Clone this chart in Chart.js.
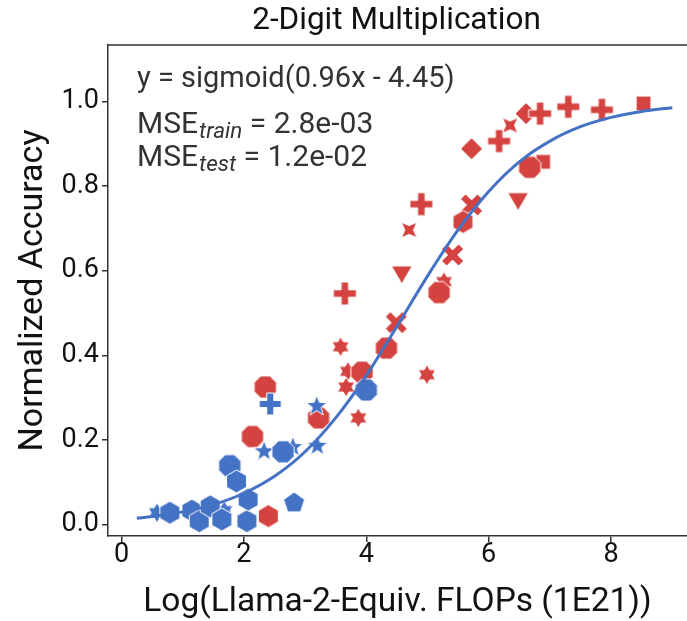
<!DOCTYPE html>
<html>
<head>
<meta charset="utf-8">
<script src="https://cdn.jsdelivr.net/npm/chart.js@4.4.1/dist/chart.umd.min.js"></script>
<style>
html,body{margin:0;padding:0;background:#fff;overflow:hidden;}
#wrap{width:687px;height:621px;}
</style>
</head>
<body>
<div id="wrap"><canvas id="c" width="687" height="621"></canvas></div>
<script>
// ---- data ----
const chartTitle = '2-Digit Multiplication';
const xAxisTitle = 'Log(Llama-2-Equiv. FLOPs (1E21))';
const yAxisTitle = 'Normalized Accuracy';
const xTicks = [0, 2, 4, 6, 8];
const xTickLabels = ['0', '2', '4', '6', '8'];
const yTicks = [0, 0.2, 0.4, 0.6, 0.8, 1.0];
const yTickLabels = ['0.0', '0.2', '0.4', '0.6', '0.8', '1.0'];
const fitLabel = 'y = sigmoid(0.96x - 4.45)';
const mseTrain = '2.8e-03';
const mseTest = '1.2e-02';

// fitted curve, sampled along the drawn line
const fitX = [0.25, 0.5, 1.0, 1.5, 2.0, 2.5, 3.0, 3.5, 4.0, 4.5, 5.0, 5.5, 6.0, 6.5, 7.0, 7.5, 8.0, 8.5, 9.0];
const fitY = [0.015, 0.019, 0.030, 0.047, 0.074, 0.114, 0.172, 0.252, 0.352, 0.468, 0.587, 0.696, 0.787, 0.857, 0.906, 0.940, 0.962, 0.976, 0.985];

// train (blue) points by marker
const trainHexX = [0.79, 1.15, 1.27, 1.45, 1.64, 1.88, 2.05, 2.07];
const trainHexY = [0.028, 0.033, 0.008, 0.043, 0.012, 0.102, 0.008, 0.059];
const trainOctX = [1.77, 2.64, 4.00];
const trainOctY = [0.139, 0.172, 0.318];
const trainPentX = [2.82];
const trainPentY = [0.051];
const trainPlusX = [2.43];
const trainPlusY = [0.285];
const trainStar5X = [2.33, 2.80, 3.20, 3.19];
const trainStar5Y = [0.173, 0.183, 0.186, 0.280];
const trainStar6X = [0.58, 1.68];
const trainStar6Y = [0.028, 0.033];

// test (red) points by marker
const testHexX = [2.40, 5.58];
const testHexY = [0.020, 0.715];
const testOctX = [2.35, 2.14, 3.22, 3.93, 4.33, 5.19, 6.67];
const testOctY = [0.325, 0.208, 0.252, 0.360, 0.417, 0.548, 0.844];
const testStar6X = [3.58, 3.70, 3.67, 3.87, 4.99, 5.27];
const testStar6Y = [0.420, 0.362, 0.325, 0.252, 0.354, 0.574];
const testPlusX = [3.65, 4.90, 6.17, 6.84, 7.30, 7.85];
const testPlusY = [0.546, 0.757, 0.906, 0.971, 0.987, 0.980];
const testXX = [4.49, 5.41, 5.72];
const testXY = [0.477, 0.637, 0.755];
const testStar4X = [4.70, 6.35];
const testStar4Y = [0.696, 0.943];
const testTriX = [4.58, 6.48];
const testTriY = [0.597, 0.770];
const testDiamondX = [5.72, 6.61];
const testDiamondY = [0.888, 0.971];
const testSquareX = [6.89, 8.53];
const testSquareY = [0.857, 0.995];

// ---- styling ----
const BLUE = '#4472c4';
const RED = '#d4433f';
const FONT = 'Roboto, "Liberation Sans", sans-serif';

function marker(shape, color, r) {
  const s = Math.ceil(2 * r + 4);
  const c = document.createElement('canvas');
  c.width = s; c.height = s;
  const g = c.getContext('2d');
  g.translate(s / 2, s / 2);
  g.beginPath();
  const poly = (n, rad, rot) => {
    for (let i = 0; i < n; i++) {
      const a = rot + i * 2 * Math.PI / n;
      const px = rad * Math.cos(a), py = rad * Math.sin(a);
      if (i) g.lineTo(px, py); else g.moveTo(px, py);
    }
    g.closePath();
  };
  const star = (n, ro, ri, rot) => {
    for (let i = 0; i < 2 * n; i++) {
      const rad = i % 2 ? ri : ro;
      const a = rot + i * Math.PI / n;
      const px = rad * Math.cos(a), py = rad * Math.sin(a);
      if (i) g.lineTo(px, py); else g.moveTo(px, py);
    }
    g.closePath();
  };
  const cross = (a, t, rot) => {
    const pts = [[-t, -a], [t, -a], [t, -t], [a, -t], [a, t], [t, t], [t, a], [-t, a], [-t, t], [-a, t], [-a, -t], [-t, -t]];
    pts.forEach((p, i) => {
      const x = p[0] * Math.cos(rot) - p[1] * Math.sin(rot);
      const y = p[0] * Math.sin(rot) + p[1] * Math.cos(rot);
      if (i) g.lineTo(x, y); else g.moveTo(x, y);
    });
    g.closePath();
  };
  switch (shape) {
    case 'hex': poly(6, r, -Math.PI / 2); break;
    case 'oct': poly(8, r, Math.PI / 8); break;
    case 'pent': poly(5, r, -Math.PI / 2); break;
    case 'tri': poly(3, r, Math.PI / 2); break;
    case 'diamond': poly(4, r, -Math.PI / 2); break;
    case 'square': poly(4, r, Math.PI / 4); break;
    case 'star5': star(5, r, r * 0.42, -Math.PI / 2); break;
    case 'star6': star(6, r, r * 0.58, -Math.PI / 2); break;
    case 'star4': star(4, r, r * 0.4, Math.PI / 4); break;
    case 'plus': cross(r, r * 0.32, 0); break;
    case 'x': cross(r, r * 0.3, Math.PI / 4); break;
  }
  g.fillStyle = color;
  g.fill();
  g.strokeStyle = '#ffffff';
  g.lineWidth = 1;
  g.stroke();
  return c;
}

function pts(xs, ys) { return xs.map((x, i) => ({ x: x, y: ys[i] })); }
function scatterSet(xs, ys, shape, color, r) {
  return { type: 'scatter', data: pts(xs, ys), pointStyle: marker(shape, color, r), pointRadius: r, pointHoverRadius: r, order: 1 };
}

const datasets = [
  { type: 'scatter', data: pts(fitX, fitY), showLine: true, borderColor: BLUE, borderWidth: 3, pointRadius: 0, cubicInterpolationMode: 'monotone', fill: false, order: 0 },
  scatterSet(trainHexX, trainHexY, 'hex', BLUE, 11.5),
  scatterSet(trainOctX, trainOctY, 'oct', BLUE, 12),
  scatterSet(trainPentX, trainPentY, 'pent', BLUE, 11),
  scatterSet(trainPlusX, trainPlusY, 'plus', BLUE, 11),
  scatterSet(trainStar5X, trainStar5Y, 'star5', BLUE, 11),
  scatterSet(trainStar6X, trainStar6Y, 'star6', BLUE, 10),
  scatterSet(testHexX, testHexY, 'hex', RED, 11.5),
  scatterSet(testOctX, testOctY, 'oct', RED, 12),
  scatterSet(testStar6X, testStar6Y, 'star6', RED, 10),
  scatterSet(testPlusX, testPlusY, 'plus', RED, 11.5),
  scatterSet(testXX, testXY, 'x', RED, 12),
  scatterSet(testStar4X, testStar4Y, 'star4', RED, 11),
  scatterSet(testTriX, testTriY, 'tri', RED, 12),
  scatterSet(testDiamondX, testDiamondY, 'diamond', RED, 11),
  scatterSet(testSquareX, testSquareY, 'square', RED, 10.5)
];

const framePlugin = {
  id: 'frame',
  afterDraw(chart) {
    const { ctx, chartArea } = chart;
    ctx.save();
    // top spine
    ctx.strokeStyle = '#333333';
    ctx.lineWidth = 1.5;
    ctx.beginPath();
    ctx.moveTo(chartArea.left, chartArea.top);
    ctx.lineTo(chartArea.right, chartArea.top);
    ctx.stroke();
    // title
    ctx.fillStyle = '#111111';
    ctx.font = '31.5px ' + FONT;
    ctx.textAlign = 'center';
    ctx.textBaseline = 'middle';
    ctx.fillText(chartTitle, (chartArea.left + chartArea.right) / 2 - 1, 21);
    // annotation
    ctx.fillStyle = '#333333';
    ctx.textAlign = 'left';
    ctx.textBaseline = 'alphabetic';
    const x0 = chartArea.left + 29;
    ctx.font = '29px ' + FONT;
    ctx.fillText(fitLabel, x0, chartArea.top + 42);
    const drawMse = (sub, val, y) => {
      ctx.font = '30px ' + FONT;
      ctx.fillText('MSE', x0, y);
      let w = ctx.measureText('MSE').width;
      ctx.font = 'italic 22.5px ' + FONT;
      ctx.fillText(sub, x0 + w + 1, y + 5);
      w += ctx.measureText(sub).width + 1;
      ctx.font = '30px ' + FONT;
      ctx.fillText(' = ' + val, x0 + w, y);
    };
    drawMse('train', mseTrain, chartArea.top + 88);
    drawMse('test', mseTest, chartArea.top + 121);
    ctx.restore();
  }
};

new Chart(document.getElementById('c'), {
  type: 'scatter',
  data: { datasets: datasets },
  plugins: [framePlugin],
  options: {
    responsive: false,
    animation: false,
    events: [],
    layout: { autoPadding: false, padding: { top: 45, left: 0, right: 0, bottom: 0 } },
    plugins: { legend: { display: false }, tooltip: { enabled: false }, title: { display: false } },
    elements: { line: { tension: 0.4 } },
    scales: {
      x: {
        type: 'linear',
        min: -0.22,
        max: 9.24,
        afterFit(scale) { scale.height = 85; scale.paddingLeft = 0; scale.paddingRight = 0; },
        afterBuildTicks(scale) { scale.ticks = xTicks.map(v => ({ value: v })); },
        ticks: {
          color: '#111111',
          font: { family: FONT, size: 27 },
          padding: -3,
          maxRotation: 0,
          callback: (v) => xTickLabels[xTicks.indexOf(v)]
        },
        grid: { display: true, drawOnChartArea: false, drawTicks: true, tickLength: 6, color: '#333333', lineWidth: 1.5 },
        border: { display: true, color: '#333333', width: 1.5 },
        title: { display: true, text: xAxisTitle, color: '#111111', font: { family: FONT, size: 33.5, lineHeight: 1 }, padding: { top: 0, bottom: 2 } }
      },
      y: {
        type: 'linear',
        min: -0.027,
        max: 1.133,
        afterFit(scale) { scale.width = 108; scale.paddingTop = 0; scale.paddingBottom = 0; },
        afterBuildTicks(scale) { scale.ticks = yTicks.map(v => ({ value: v })); },
        ticks: {
          color: '#111111',
          font: { family: FONT, size: 27 },
          padding: 3,
          callback: (v) => yTickLabels[yTicks.indexOf(v)]
        },
        grid: { display: true, drawOnChartArea: false, drawTicks: true, tickLength: 6, color: '#333333', lineWidth: 1.5 },
        border: { display: true, color: '#333333', width: 1.5 },
        title: { display: true, text: yAxisTitle, color: '#111111', font: { family: FONT, size: 34, lineHeight: 1 }, padding: { top: 16, bottom: 0 } }
      }
    }
  }
});
</script>
</body>
</html>
